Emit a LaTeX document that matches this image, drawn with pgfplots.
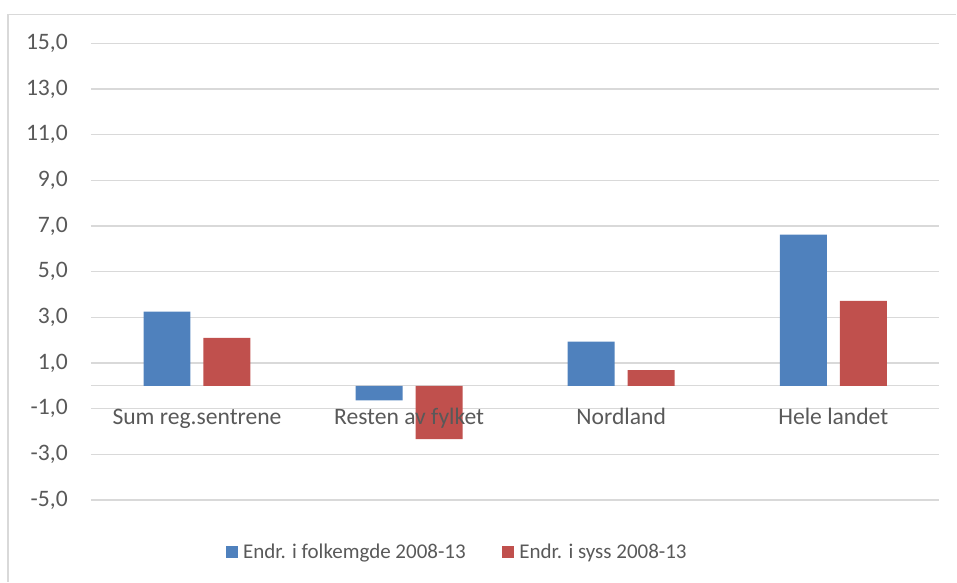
\documentclass[border=0pt]{standalone}
\usepackage{pgfplots}
\pgfplotsset{compat=1.18}
\usepackage{fontspec}
\setmainfont{Carlito}
\definecolor{fblue}{HTML}{4F81BD}
\definecolor{fred}{HTML}{C0504D}
\definecolor{tgrey}{HTML}{595959}
\definecolor{ggrey}{HTML}{D9D9D9}
\begin{document}
\fontsize{20.7bp}{24bp}\selectfont
\begin{tikzpicture}
\path (0,0) rectangle (957bp,-582bp);
\draw[ggrey, line width=1.3bp] (8bp,-582bp) -- (8bp,-14.7bp) -- (957bp,-14.7bp);
\begin{axis}[
  at={(91bp,-500.3bp)}, anchor=south west,
  x=212.25bp, y=22.85bp,
  xmin=-0.5, xmax=3.5, ymin=-5, ymax=15,
  ybar=13bp, bar width=47bp,
  axis line style={draw=none},
  major tick length=0pt,
  ytick={-5,-3,...,15},
  extra y ticks={0}, extra y tick labels={},
  extra y tick style={grid=major},
  ymajorgrids,
  grid style={ggrey, line width=1.3bp},
  xtick=\empty,
  yticklabel style={anchor=east, inner sep=0pt, xshift=-23bp, text=tgrey, font=\fontsize{23.6bp}{28bp}\selectfont},
  /pgf/number format/assume math mode=true,
  yticklabel={\pgfmathprintnumber[fixed, fixed zerofill, precision=1, use comma]{\tick}},
  legend columns=2,
  legend style={at={(0.159,-0.1147)}, anchor=west, draw=none, fill=none, inner sep=0pt,
    text=tgrey, font=\fontsize{21bp}{24bp}\selectfont,
    nodes={inner sep=0pt},
    /tikz/column sep=5bp,
    /tikz/every even column/.append style={column sep=36.7bp}},
  legend image code/.code={\fill[#1] (0bp,-6bp) rectangle (12bp,6bp);},
  clip=false,
]
\addplot[fill=fblue, draw=none] coordinates {(0,3.25) (1,-0.64) (2,1.93) (3,6.62)};
\addplot[fill=fred, draw=none] coordinates {(0,2.10) (1,-2.34) (2,0.69) (3,3.72)};
\legend{Endr. i folkemgde 2008-13, Endr. i syss 2008-13}
\begin{scope}[every node/.style={anchor=base, inner sep=0pt, yshift=-39bp, text=tgrey, font=\fontsize{23.6bp}{28bp}\selectfont}]
\node at (axis cs:0,0) {Sum reg.sentrene};
\node at (axis cs:1,0) {Resten av fylket};
\node at (axis cs:2,0) {Nordland};
\node at (axis cs:3,0) {Hele landet};
\end{scope}
\end{axis}
\end{tikzpicture}
\end{document}
